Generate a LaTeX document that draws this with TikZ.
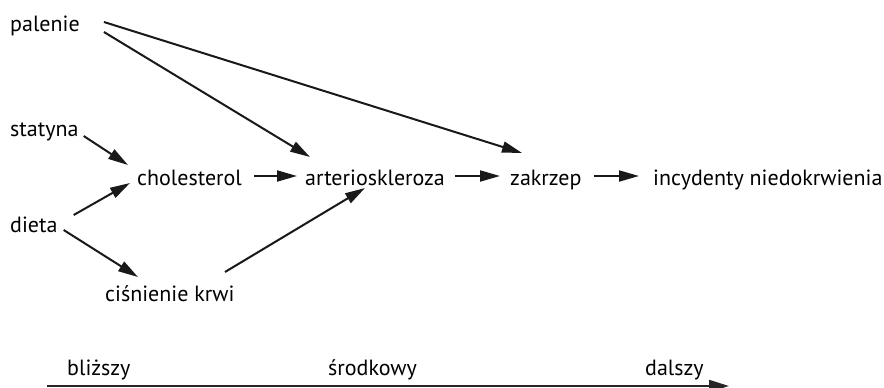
\documentclass[tikz,border=0pt]{standalone}
\usepackage{fontspec}
\setmainfont{PT Sans}
\usepackage{tikz}
\usetikzlibrary{positioning,calc,arrows.meta}

\begin{document}
\begin{tikzpicture}[
    x=1pt, y=-1pt,
    factor/.style={inner sep=0pt, anchor=base west, font=\fontsize{22}{26}\selectfont},
    scalelabel/.style={inner sep=0pt, anchor=base west, font=\fontsize{22}{26}\selectfont},
    arrow/.style={-{Triangle[length=20pt, width=11pt]}, line width=2pt, draw=black!90},
    axis/.style={-{Triangle[length=20pt, width=12pt]}, line width=2pt, draw=black!85}
]
\useasboundingbox (0,0) rectangle (884,388);

% causes
\node[factor] (palenie) at (10,31) {palenie};
\node[factor] (statyna) at (10,136) {statyna};
\node[factor] (dieta) at (10,232) {dieta};

% pathway
\node[factor] (chol) at (137,185) {cholesterol};
\node[factor] (arterio) at (305,185) {arterioskleroza};
\node[factor] (zakrzep) at (510,185) {zakrzep};
\node[factor] (incyd) at (653,185) {incydenty niedokrwienia};
\node[factor] (cisn) at (105,301) {ciśnienie krwi};

% arrows
\draw[arrow] ($(palenie.base east)+(24,-9)$) -- ($(zakrzep.base west)+(12,-32)$);
\draw[arrow] ($(palenie.base east)+(24,1)$) -- ($(arterio.base west)+(5,-28)$);
\draw[arrow] ($(statyna.base east)+(5,0)$) -- ($(chol.base west)+(-9,-20)$);
\draw[arrow] ($(dieta.base east)+(16,-17)$) -- ($(chol.base west)+(-7,-2)$);
\draw[arrow] ($(dieta.base east)+(6,-2)$) -- ($(cisn.base west)+(33,-24)$);
\draw[arrow] ($(cisn.base west)+(120,-29)$) -- ($(arterio.base west)+(60,3)$);
\draw[arrow] ($(chol.base east)+(12,-9)$) -- ($(arterio.base west)+(-8,-9)$);
\draw[arrow] ($(arterio.base east)+(10,-9)$) -- ($(zakrzep.base west)+(-10,-9)$);
\draw[arrow] ($(zakrzep.base east)+(12,-9)$) -- ($(incyd.base west)+(-14,-9)$);

% scale
\node[scalelabel] (blizszy) at (67,375) {bliższy};
\node[scalelabel] (srodkowy) at (328,375) {środkowy};
\node[scalelabel] (dalszy) at (645,375) {dalszy};
\coordinate (axisstart) at (47,386);
\coordinate (axisend) at (729,386);
\draw[axis] (axisstart) -- (axisend);

\end{tikzpicture}
\end{document}
